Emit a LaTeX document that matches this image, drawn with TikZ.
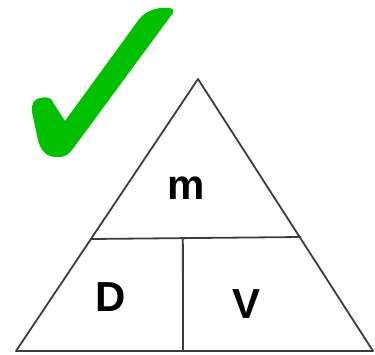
\documentclass[tikz,border=0pt]{standalone}
\usepackage{fontspec}
\setmainfont{Liberation Sans}
\usetikzlibrary{calc}
\definecolor{tick-green}{RGB}{0,192,0}
\definecolor{edge-gray}{RGB}{60,60,60}

\begin{document}
\begin{tikzpicture}[
  x=1pt, y=-1pt,
  every node/.style={font=\fontsize{42}{42}\selectfont\bfseries},
  edge/.style={draw=edge-gray, line width=1.8pt, line join=round},
]
  \useasboundingbox (0,0) rectangle (375,354);
  % triangle corners
  \coordinate (top) at (198,79);
  \coordinate (bl) at (16,351);
  \coordinate (br) at (373,351);
  \coordinate (ml) at (90,239);
  \coordinate (mr) at (301,237);
  \coordinate (mb) at (183,351);
  \path[edge] (top) -- (bl) -- (br) -- cycle;
  \path[edge] (ml) -- (mr);
  \path[edge] ($(ml)!0.44!(mr)$) -- (mb);
  % labels
  \node (mass) at (186,188) {m};
  \node (dens) at (111,297) {D};
  \node (vol) at (247,304) {V};
  % check mark
  \fill[tick-green] (40,98) .. controls (48,96) and (52,98) .. (54,104)
    -- (65,121) -- (140,18)
    .. controls (148,9) and (160,7) .. (170,8)
    .. controls (175,9) and (174,13) .. (170,17)
    -- (72,150)
    .. controls (66,158) and (58,158) .. (50,156)
    .. controls (44,154) and (40,148) .. (38,140)
    -- (32,112) .. controls (31,104) and (34,99) .. (40,98) -- cycle;
\end{tikzpicture}
\end{document}
